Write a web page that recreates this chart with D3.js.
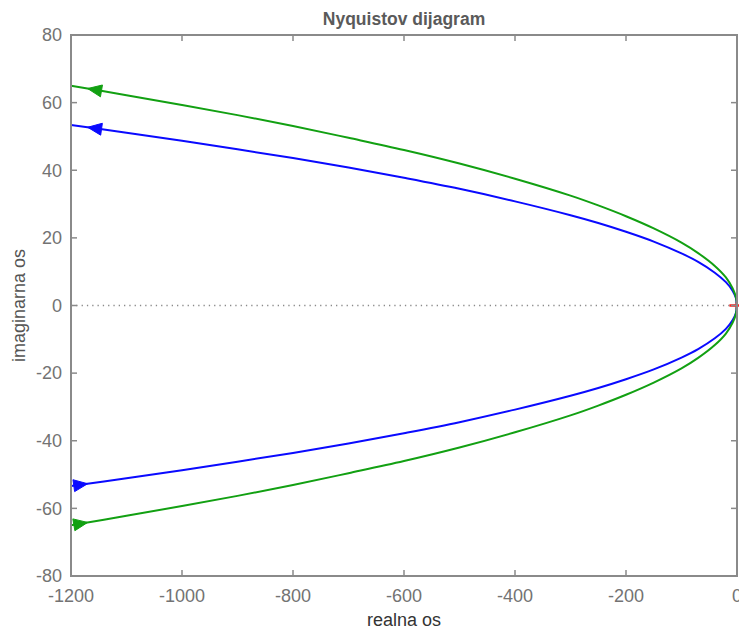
<!DOCTYPE html>
<html>
<head>
<meta charset="utf-8">
<script src="https://cdn.jsdelivr.net/npm/d3@7"></script>
<style>
  html, body { margin: 0; padding: 0; background: #fff; }
  svg { display: block; font-family: Arial, "Liberation Sans", Helvetica, sans-serif; }
</style>
</head>
<body>
<svg id="chart" width="739" height="634"></svg>
<script>
// ---- data ----
const titleText = "Nyquistov dijagram";
const xLabelText = "realna os";
const yLabelText = "imaginarna os";
const xTicks = [-1200, -1000, -800, -600, -400, -200, 0];
const yTicks = [-80, -60, -40, -20, 0, 20, 40, 60, 80];

const realPts = [-1200, -1100, -1000, -900, -800, -700, -600, -500, -400, -300, -250, -200, -150, -100, -70, -40, -20, -8, -2, 0];
const greenUpper = [65.0, 62.2, 59.3, 56.3, 53.1, 49.6, 46.0, 42.0, 37.5, 32.5, 29.6, 26.4, 22.8, 18.6, 15.5, 11.7, 8.3, 5.1, 2.5, 0];
const greenLower = [-65.0, -62.2, -59.3, -56.3, -53.1, -49.6, -46.0, -42.0, -37.5, -32.5, -29.6, -26.4, -22.8, -18.6, -15.5, -11.7, -8.3, -5.1, -2.5, 0];
const blueUpper = [53.4, 51.1, 48.7, 46.2, 43.6, 40.8, 37.75, 34.5, 30.8, 26.7, 24.4, 21.8, 18.9, 15.4, 12.9, 9.7, 6.9, 4.4, 2.2, 0];
const blueLower = [-53.4, -51.1, -48.7, -46.2, -43.6, -40.8, -37.75, -34.5, -30.8, -26.7, -24.4, -21.8, -18.9, -15.4, -12.9, -9.7, -6.9, -4.4, -2.2, 0];

// arrows: tip real position and direction (-1 points left, +1 points right)
const arrowTipReal = [-1170, -1170, -1170, -1170];
const arrowDir = [-1, -1, 1, 1];
const criticalPoint = [-1, 0];

// ---- layout ----
const svg = d3.select("#chart");
const m = { left: 71, top: 35, right: 2, bottom: 58 };
const W = 739 - m.left - m.right;
const H = 634 - m.top - m.bottom;
const axisColor = "#8a8a8a";
const tickTextColor = "#737373";
const green = "#12a012";
const blue = "#0a0aff";

const x = d3.scaleLinear().domain([-1200, 0]).range([0, W]);
const y = d3.scaleLinear().domain([-80, 80]).range([H, 0]);

const g = svg.append("g").attr("transform", `translate(${m.left},${m.top})`);

// zero line dotted
g.append("line")
  .attr("x1", x(-1200)).attr("x2", x(0))
  .attr("y1", y(0)).attr("y2", y(0))
  .attr("stroke", "#8a8a8a").attr("stroke-width", 1.3)
  .attr("stroke-dasharray", "1.3,4");

// critical point marker (vertical part under the curves)
g.append("path")
  .attr("d", `M${x(criticalPoint[0])},${y(criticalPoint[1]) - 4}v8`)
  .attr("stroke", "#ff2020").attr("stroke-width", 2);

const line = d3.line().x(d => x(d[0])).y(d => y(d[1])).curve(d3.curveCatmullRom.alpha(0.5));
const series = [
  { vals: blueUpper, color: blue },
  { vals: blueLower, color: blue },
  { vals: greenUpper, color: green },
  { vals: greenLower, color: green }
];
const arrowSeries = [greenUpper, blueUpper, blueLower, greenLower];
const arrowColors = [green, blue, blue, green];

series.forEach(s => {
  g.append("path")
    .datum(realPts.map((r, i) => [r, s.vals[i]]))
    .attr("d", line)
    .attr("fill", "none")
    .attr("stroke", s.color)
    .attr("stroke-width", 2);
});

// critical point marker (horizontal part on top)
g.append("path")
  .attr("d", `M${x(criticalPoint[0]) - 7},${y(criticalPoint[1])}h10`)
  .attr("stroke", "#ff2020").attr("stroke-width", 2.5);

// arrows
arrowSeries.forEach((vals, i) => {
  const interp = d3.scaleLinear().domain(realPts).range(vals);
  const tipR = arrowTipReal[i];
  const dir = arrowDir[i];
  const tx = x(tipR), ty = y(interp(tipR));
  const bR = tipR - dir * 14 * 1200 / W;
  const bx = x(bR), by = y(interp(bR));
  const ang = Math.atan2(ty - by, tx - bx);
  const L = 14, hw = 6;
  const px = -Math.sin(ang), py = Math.cos(ang);
  const baseX = tx - L * Math.cos(ang), baseY = ty - L * Math.sin(ang);
  g.append("path")
    .attr("d", `M${tx},${ty}L${baseX + px * hw},${baseY + py * hw}L${baseX - px * hw},${baseY - py * hw}Z`)
    .attr("fill", arrowColors[i])
    .attr("stroke", arrowColors[i])
    .attr("stroke-width", 1);
});

// box
g.append("rect")
  .attr("x", 0).attr("y", 0).attr("width", W).attr("height", H)
  .attr("fill", "none").attr("stroke", axisColor).attr("stroke-width", 2);

// ticks (inward, all four sides)
const tl = 6;
xTicks.forEach(t => {
  g.append("line").attr("x1", x(t)).attr("x2", x(t)).attr("y1", H).attr("y2", H - tl)
    .attr("stroke", axisColor).attr("stroke-width", 1.5);
  g.append("line").attr("x1", x(t)).attr("x2", x(t)).attr("y1", 0).attr("y2", tl)
    .attr("stroke", axisColor).attr("stroke-width", 1.5);
  g.append("text").attr("x", x(t)).attr("y", H + 26)
    .attr("text-anchor", "middle").attr("font-size", 18).attr("fill", tickTextColor)
    .text(t);
});
yTicks.forEach(t => {
  g.append("line").attr("x1", 0).attr("x2", tl).attr("y1", y(t)).attr("y2", y(t))
    .attr("stroke", axisColor).attr("stroke-width", 1.5);
  g.append("line").attr("x1", W).attr("x2", W - tl).attr("y1", y(t)).attr("y2", y(t))
    .attr("stroke", axisColor).attr("stroke-width", 1.5);
  g.append("text").attr("x", -9).attr("y", y(t)).attr("dy", "0.35em")
    .attr("text-anchor", "end").attr("font-size", 18).attr("fill", tickTextColor)
    .text(t);
});

// title and labels
svg.append("text").attr("x", m.left + W / 2).attr("y", 25)
  .attr("text-anchor", "middle").attr("font-size", 17.5).attr("font-weight", "bold")
  .attr("fill", "#5a5a5a").text(titleText);
svg.append("text").attr("x", m.left + W / 2).attr("y", 626)
  .attr("text-anchor", "middle").attr("font-size", 18).attr("fill", "#333")
  .text(xLabelText);
svg.append("text")
  .attr("transform", `translate(25,${m.top + H / 2}) rotate(-90)`)
  .attr("text-anchor", "middle").attr("font-size", 18).attr("fill", "#555")
  .text(yLabelText);
</script>
</body>
</html>
